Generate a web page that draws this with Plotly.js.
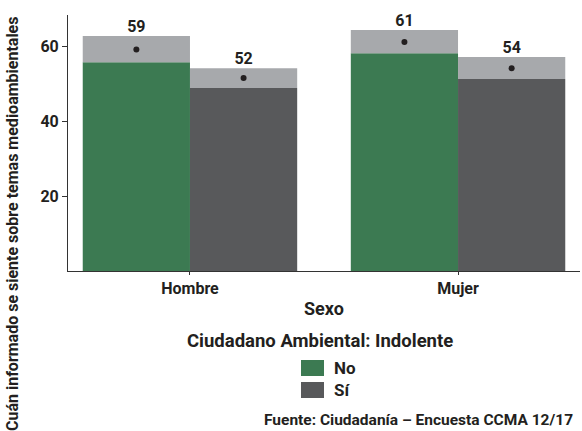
<!DOCTYPE html>
<html>
<head>
<meta charset="utf-8">
<script src="https://cdn.plot.ly/plotly-3.0.1.min.js"></script>
<style>html,body{margin:0;padding:0;background:#fff}#chart{width:582px;height:431px}</style>
</head>
<body>
<div id="chart"></div>
<script>
// ---- Data ----
const categories = ['Hombre', 'Mujer'];
const groupNames = ['No', 'Sí'];
const meanNo = [59.1, 61.1];
const lowNo  = [55.7, 58.1];
const highNo = [62.7, 64.3];
const meanSi = [51.5, 54.1];
const lowSi  = [48.8, 51.2];
const highSi = [54.1, 57.1];
const yTicks = [20, 40, 60];
const xTitle = 'Sexo';
const yTitle = 'Cuán informado se siente sobre temas medioambientales';
const legendTitle = 'Ciudadano Ambiental: Indolente';
const sourceText = 'Fuente: Ciudadanía – Encuesta CCMA 12/17';

// ---- Styles ----
const colors = ['#3c7a52', '#58595b'];
const ciColor = '#a7a9ac';
const textColor = '#231f20';
const FONT = 'Roboto, "Open Sans", sans-serif';
const W = 0.4;

const idx = categories.map((c, i) => i);
const series = [
  {name: groupNames[0], mean: meanNo, low: lowNo, high: highNo, off: -W},
  {name: groupNames[1], mean: meanSi, low: lowSi, high: highSi, off: 0}
];

const traces = [];
series.forEach((s, k) => {
  traces.push({
    type: 'bar', x: idx, y: s.low, name: s.name, width: W, offset: s.off,
    marker: {color: colors[k], line: {width: 0}}, showlegend: false, hoverinfo: 'skip'
  });
  traces.push({
    type: 'bar', x: idx, base: s.low, y: s.high.map((h, i) => h - s.low[i]),
    width: W, offset: s.off, marker: {color: ciColor, line: {width: 0}},
    showlegend: false, hoverinfo: 'skip'
  });
  const cx = idx.map(i => i + s.off + W / 2);
  traces.push({
    type: 'scatter', mode: 'markers', x: cx, y: s.mean,
    marker: {color: textColor, size: 6}, showlegend: false, hoverinfo: 'skip'
  });
  traces.push({
    type: 'scatter', mode: 'text', x: cx, y: s.high,
    text: s.mean.map(v => String(Math.round(v))), textposition: 'top center',
    textfont: {family: FONT, size: 16, color: textColor, weight: 'bold'},
    cliponaxis: false, showlegend: false, hoverinfo: 'skip'
  });
});

// plot area in pixels: x 68..580, y 15..271
const L = 68, R = 580, T = 15, B = 271;
const px = x => (x - L) / (R - L);
const py = y => (B - y) / (B - T);

const shapes = [];
const annotations = [];
groupNames.forEach((g, k) => {
  const top = 360 + k * 22;
  shapes.push({type: 'rect', xref: 'paper', yref: 'paper',
    x0: px(301), x1: px(324), y0: py(top), y1: py(top + 16),
    fillcolor: colors[k], line: {width: 0}});
  annotations.push({xref: 'paper', yref: 'paper', x: px(332), y: py(top + 8),
    xanchor: 'left', yanchor: 'middle', text: g, showarrow: false,
    font: {family: FONT, size: 17, color: textColor, weight: 'bold'}});
});
annotations.push({xref: 'paper', yref: 'paper', x: px(320), y: py(341),
  xanchor: 'center', yanchor: 'middle', text: legendTitle, showarrow: false,
  font: {family: FONT, size: 18.5, color: textColor, weight: 'bold'}});
annotations.push({xref: 'paper', yref: 'paper', x: px(324), y: py(308),
  xanchor: 'center', yanchor: 'middle', text: xTitle, showarrow: false,
  font: {family: FONT, size: 18, color: textColor, weight: 'bold'}});
annotations.push({xref: 'paper', yref: 'paper', x: px(575), y: py(420),
  xanchor: 'right', yanchor: 'middle', text: sourceText, showarrow: false,
  font: {family: FONT, size: 15.5, color: textColor, weight: 'bold'}});
annotations.push({xref: 'paper', yref: 'paper', x: px(12), y: py(224),
  xanchor: 'center', yanchor: 'middle', text: yTitle, textangle: -90, showarrow: false,
  font: {family: FONT, size: 16, color: textColor, weight: 'bold'}});

const layout = {
  width: 582, height: 431,
  margin: {l: L, r: 582 - R, t: T, b: 431 - B, pad: 0},
  paper_bgcolor: '#fff', plot_bgcolor: '#fff',
  barmode: 'overlay', showlegend: false,
  font: {family: FONT, color: textColor},
  xaxis: {
    range: [-0.455, 1.455], tickvals: idx, ticktext: categories,
    showgrid: false, zeroline: false, showline: true, linecolor: '#333', linewidth: 1,
    ticks: 'outside', ticklen: 3, tickcolor: '#333',
    tickfont: {family: FONT, size: 16, color: textColor, weight: 'bold'}, fixedrange: true
  },
  yaxis: {
    range: [0, 68.3], tickvals: yTicks, ticktext: yTicks.map(String),
    showgrid: false, zeroline: false, showline: true, linecolor: '#333', linewidth: 1,
    ticks: 'outside', ticklen: 5, tickcolor: '#333',
    tickfont: {family: FONT, size: 16, color: textColor, weight: 'bold'}, fixedrange: true
  },
  shapes: shapes,
  annotations: annotations
};

Plotly.newPlot('chart', traces, layout, {displayModeBar: false, staticPlot: true});
</script>
</body>
</html>
